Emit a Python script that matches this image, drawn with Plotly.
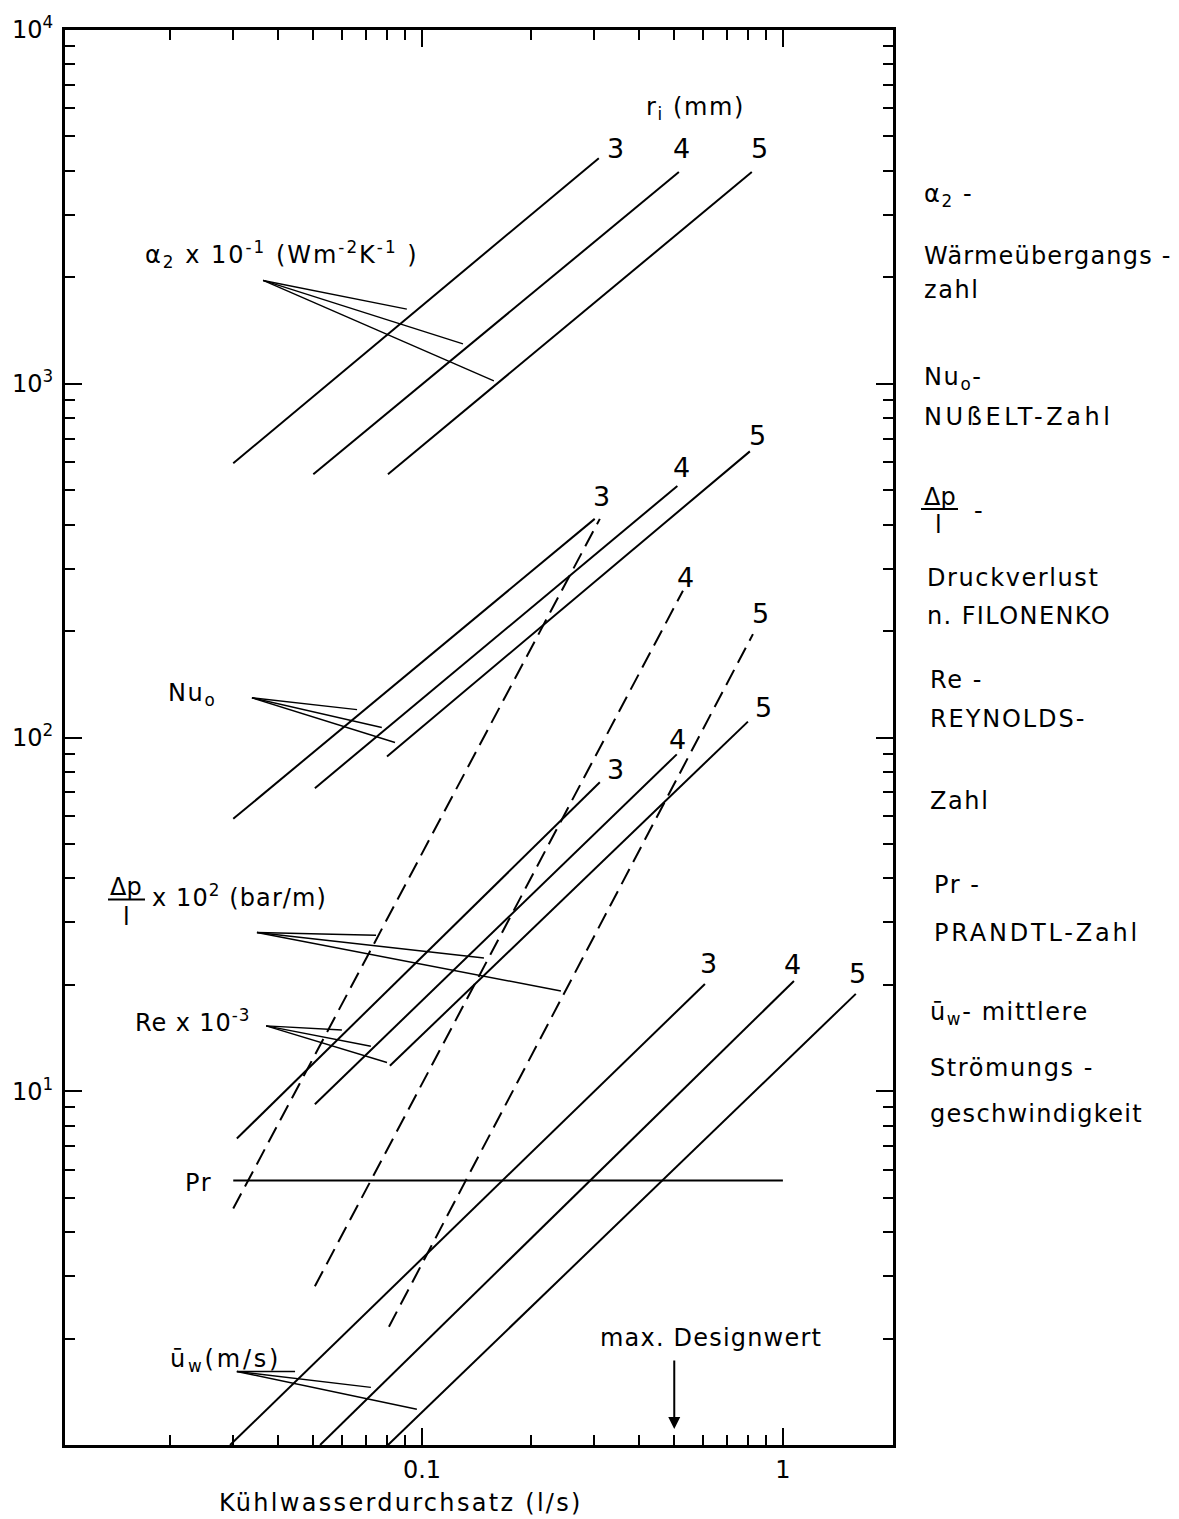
import numpy as np
import plotly.graph_objects as go

# ---------------- data ----------------
radii = ["3", "4", "5"]

# alpha_2 x 10^-1 (W m^-2 K^-1)
alpha_x0 = [0.030, 0.050, 0.0805]
alpha_x1 = [0.309, 0.515, 0.820]
alpha_y0 = [596, 555, 555]
alpha_y1 = [4342, 3966, 3966]

# Nu_o
nu_x0 = [0.030, 0.0505, 0.080]
nu_x1 = [0.301, 0.510, 0.810]
nu_y0 = [58.9, 71.9, 88.4]
nu_y1 = [415, 514, 644]

# delta p / l x 10^2 (bar/m)  (dashed)
dp_x0 = [0.030, 0.0505, 0.081]
dp_x1 = [0.311, 0.5285, 0.826]
dp_y0 = [4.66, 2.81, 2.16]
dp_y1 = [415, 260, 196]

# Re x 10^-3
re_x0 = [0.0307, 0.0505, 0.0815]
re_x1 = [0.311, 0.508, 0.800]
re_y0 = [7.35, 9.19, 11.8]
re_y1 = [74.7, 89.6, 110.9]

# Pr
pr_x = [0.030, 1.0]
pr_y = [5.59, 5.59]

# mean velocity u_w (m/s)
uw_x0 = [0.0294, 0.0522, 0.0805]
uw_x1 = [0.608, 1.073, 1.592]
uw_y0 = [1.0, 1.0, 1.0]
uw_y1 = [20.1, 20.5, 18.85]

# leader lines: apex first, then the three end points
lead_alpha_x = [0.0363, 0.0908, 0.1299, 0.1582]
lead_alpha_y = [1959, 1625, 1296, 1019]
lead_nu_x = [0.0338, 0.0661, 0.0774, 0.0842]
lead_nu_y = [129.5, 119.9, 106.7, 96.8]
lead_dp_x = [0.0349, 0.0746, 0.1485, 0.2427]
lead_dp_y = [28.1, 27.6, 23.8, 19.2]
lead_re_x = [0.0370, 0.0600, 0.0722, 0.0800]
lead_re_y = [15.3, 14.9, 13.4, 12.06]
lead_uw_x = [0.0307, 0.0445, 0.0722, 0.0968]
lead_uw_y = [1.614, 1.614, 1.455, 1.262]

design_flow = 0.5

x_tick_vals = [0.1, 1]
x_tick_text = ["0.1", "1"]
y_tick_vals = [10, 100, 1000, 10000]
y_tick_text = ["10<sup>1</sup>", "10<sup>2</sup>", "10<sup>3</sup>", "10<sup>4</sup>"]
x_minor_vals = [0.02, 0.03, 0.04, 0.05, 0.06, 0.07, 0.08, 0.09,
                0.2, 0.3, 0.4, 0.5, 0.6, 0.7, 0.8, 0.9]
y_minor_vals = [k * m for m in (1, 10, 100, 1000) for k in (2, 3, 4, 5, 6, 7, 8, 9)]

X_RANGE = [-1.989, 0.305]   # log10 of 0.0103 .. 2.02
Y_RANGE = [0, 4]            # log10 of 1 .. 10^4

# ---------------- layout helpers ----------------
W, H = 1179, 1519
L, R, T, B = 65, 893, 21, 1445
FONT = "DejaVu Sans"
FS = 24


def px(x):
    return (x - L) / (R - L)


def py(y):
    return (B - y) / (B - T)


def sp(s, ls, size):
    if ls <= 0:
        return s
    return f'<span style="letter-spacing:{ls}px;font-size:{size}px">{s}</span>'


fig = go.Figure()

LINE = dict(color="black", width=2)
THIN = dict(color="black", width=1.4)


def add_family(x0, x1, y0, y1, dash=None):
    for a, b, c, d in zip(x0, x1, y0, y1):
        ln = dict(LINE)
        if dash:
            ln["dash"] = dash
        fig.add_trace(go.Scatter(x=[a, b], y=[c, d], mode="lines", line=ln,
                                 hoverinfo="skip", showlegend=False))


add_family(alpha_x0, alpha_x1, alpha_y0, alpha_y1)
add_family(nu_x0, nu_x1, nu_y0, nu_y1)
add_family(dp_x0, dp_x1, dp_y0, dp_y1, dash="17px,8px")
add_family(re_x0, re_x1, re_y0, re_y1)
add_family(uw_x0, uw_x1, uw_y0, uw_y1)
fig.add_trace(go.Scatter(x=pr_x, y=pr_y, mode="lines", line=LINE,
                         hoverinfo="skip", showlegend=False))


def add_leader(lx, ly):
    xs, ys = [], []
    for i in range(1, len(lx)):
        xs += [lx[0], lx[i], None]
        ys += [ly[0], ly[i], None]
    fig.add_trace(go.Scatter(x=xs, y=ys, mode="lines", line=THIN,
                             hoverinfo="skip", showlegend=False))


for lx, ly in [(lead_alpha_x, lead_alpha_y), (lead_nu_x, lead_nu_y),
               (lead_dp_x, lead_dp_y), (lead_re_x, lead_re_y),
               (lead_uw_x, lead_uw_y)]:
    add_leader(lx, ly)

# invisible trace that carries the minor-tick overlay axes
fig.add_trace(go.Scatter(x=[pr_x[0]], y=[pr_y[0]], xaxis="x2", yaxis="y2",
                         mode="markers", marker=dict(opacity=0),
                         hoverinfo="skip", showlegend=False))

ann = []


def text(s, x, y, xanchor="center", size=FS, ls=1.6, yanchor="middle", pad=1):
    ann.append(dict(text=sp(s, ls, size), x=px(x), y=py(y), xref="paper", yref="paper",
                    xanchor=xanchor, yanchor=yanchor, showarrow=False, borderpad=pad,
                    font=dict(family=FONT, size=size, color="black")))


shapes = []


def hbar(x0, x1, y):
    shapes.append(dict(type="line", xref="paper", yref="paper",
                       x0=px(x0), x1=px(x1), y0=py(y), y1=py(y),
                       line=dict(color="black", width=2)))


NS = 27  # size of the radius numbers

# radius labels
text("r<sub>i</sub> (mm)", 695, 100)
for lbl, (x, y) in zip(radii, [(615, 140), (681, 140), (759, 140)]):
    text(lbl, x, y, size=NS, ls=0)
for lbl, (x, y) in zip(radii, [(601, 490), (681, 461), (757, 429)]):
    text(lbl, x, y, size=NS, ls=0)
for lbl, (x, y) in zip(radii[1:], [(685, 572), (760, 608)]):
    text(lbl, x, y, size=NS, ls=0)
for lbl, (x, y) in zip(radii, [(615, 765), (677, 735), (763, 703)]):
    text(lbl, x, y, size=NS, ls=0)
for lbl, (x, y) in zip(radii, [(708, 960), (792, 961), (857, 970)]):
    text(lbl, x, y, size=NS, ls=0)

# group labels on the left
text("α<sub>2</sub> x 10<sup>-1</sup> (Wm<sup>-2</sup>K<sup>-1</sup> )", 143, 247, xanchor="left", ls=2.0)
text("Nu<sub>o</sub>", 166, 690, xanchor="left")
text("Δp", 126, 883, ls=0)
hbar(108, 145, 896)
text("l", 126, 914, ls=0)
text("x 10<sup>2</sup> (bar/m)", 150, 893, xanchor="left", ls=1.1)
text("Re x 10<sup>-3</sup>", 133, 1018, xanchor="left", ls=0.9)
text("Pr", 183, 1181, xanchor="left")
text("ū<sub>w</sub>(m/s)", 168, 1360, xanchor="left", ls=2.8)

# design arrow
text("max. Designwert", 598, 1337, xanchor="left", ls=1.2)
ann.append(dict(x=np.log10(design_flow), y=py(1429), xref="x", yref="paper",
                ax=0, ay=-70, axref="pixel", ayref="pixel", text="",
                showarrow=True, arrowhead=2, arrowsize=1.2, arrowwidth=2,
                arrowcolor="black"))

# x-axis title
text("Kühlwasserdurchsatz (l/s)", 218, 1518, xanchor="left", ls=2.3,
     yanchor="bottom", pad=0)

# right-hand legend text
RX = 922
text("α<sub>2</sub> -", RX, 188, xanchor="left")
text("Wärmeübergangs -", RX, 248, xanchor="left", ls=1.2)
text("zahl", RX, 283, xanchor="left")
text("Nu<sub>o</sub>-", RX, 372, xanchor="left")
text("NUßELT-Zahl", RX, 410, xanchor="left", ls=3.6)
text("Δp", 940, 491, ls=0)
hbar(921, 958, 503)
text("l", 938, 519, ls=0)
text("-", 978, 505, ls=0)
text("Druckverlust", 925, 572, xanchor="left")
text("n. FILONENKO", 925, 611, xanchor="left", ls=1.4)
text("Re -", 928, 675, xanchor="left")
text("REYNOLDS-", 928, 714, xanchor="left", ls=1.9)
text("Zahl", 928, 797, xanchor="left")
text("Pr -", 932, 881, xanchor="left")
text("PRANDTL-Zahl", 932, 930, xanchor="left", ls=2.8)
text("ū<sub>w</sub>- mittlere", 928, 1011, xanchor="left")
text("Strömungs -", 928, 1066, xanchor="left")
text("geschwindigkeit", 928, 1112, xanchor="left", ls=1.3)

frame = dict(showline=True, linewidth=3, linecolor="black", mirror="ticks",
             ticks="inside", tickwidth=2, tickcolor="black",
             showgrid=False, zeroline=False)

fig.update_layout(
    width=W, height=H,
    margin=dict(l=L, r=W - R, t=T, b=H - B),
    paper_bgcolor="white", plot_bgcolor="white",
    showlegend=False,
    xaxis=dict(type="log", range=X_RANGE, tickmode="array",
               tickvals=x_tick_vals, ticktext=x_tick_text, ticklen=17,
               tickfont=dict(family=FONT, size=24, color="black"),
               ticklabelstandoff=1, **frame),
    yaxis=dict(type="log", range=Y_RANGE, tickmode="array",
               tickvals=y_tick_vals, ticktext=y_tick_text, ticklen=17,
               tickfont=dict(family=FONT, size=24, color="black"),
               ticklabelstandoff=4, **frame),
    xaxis2=dict(type="log", range=X_RANGE, overlaying="x", anchor="y2", side="bottom",
                tickmode="array", tickvals=x_minor_vals, ticklen=10,
                showticklabels=False, **frame),
    yaxis2=dict(type="log", range=Y_RANGE, overlaying="y", anchor="x2", side="left",
                tickmode="array", tickvals=y_minor_vals, ticklen=10,
                showticklabels=False, **frame),
    annotations=ann,
    shapes=shapes,
)

fig.write_html("out.html")
